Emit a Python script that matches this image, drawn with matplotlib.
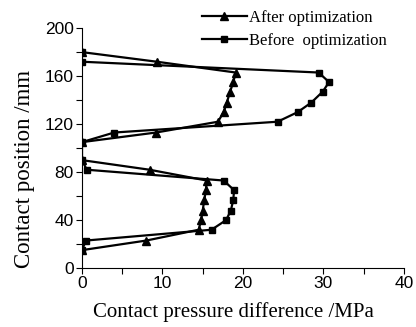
import matplotlib
matplotlib.use("Agg")
import matplotlib.pyplot as plt
from matplotlib.ticker import MultipleLocator

# contact position (mm)
pos = [180, 172, 163, 155, 147, 138, 130, 122, 113, 105,
       90, 82, 73, 65, 57, 48, 40, 32, 23, 15]
after = [0, 9.3, 19.1, 18.8, 18.4, 18.0, 17.6, 16.9, 9.2, 0,
         0, 8.4, 15.5, 15.4, 15.2, 15.0, 14.8, 14.5, 8.0, 0]
before = [0, 0, 29.4, 30.7, 29.9, 28.5, 26.8, 24.3, 4.0, 0,
          0, 0.6, 17.6, 18.9, 18.8, 18.5, 17.9, 16.1, 0.5, 0]

fig = plt.figure(figsize=(4.16, 3.27), dpi=100)
ax = fig.add_axes([0.197, 0.180, 0.774, 0.734])

ax.plot(after, pos, color="black", lw=1.6, marker="^", ms=5.5, label="After optimization")
ax.plot(before, pos, color="black", lw=1.6, marker="s", ms=4.5, label="Before  optimization")

ax.set_xlim(0, 40)
ax.set_ylim(0, 200)
ax.xaxis.set_major_locator(MultipleLocator(10))
ax.xaxis.set_minor_locator(MultipleLocator(5))
ax.yaxis.set_major_locator(MultipleLocator(40))
ax.yaxis.set_minor_locator(MultipleLocator(20))
ax.spines["top"].set_visible(False)
ax.spines["right"].set_visible(False)
ax.tick_params(which="both", direction="out", length=4, width=0.8, labelsize=12.5, pad=2)
for t in ax.get_xticklabels() + ax.get_yticklabels():
    t.set_family("Liberation Sans")

ax.set_xlabel("Contact pressure difference /MPa", family="Liberation Serif", fontsize=15)
ax.set_ylabel("Contact position /mm", family="Liberation Serif", fontsize=16.5)
ax.xaxis.set_label_coords(0.47, -0.14)
ax.yaxis.set_label_coords(-0.145, 0.415)

leg = ax.legend(loc="upper left", bbox_to_anchor=(0.372, 1.075), frameon=False,
                prop={"family": "Liberation Serif", "size": 12},
                handlelength=2.7, handletextpad=0.15, labelspacing=0.42, borderaxespad=0,
                borderpad=0)

fig.savefig("out.png", dpi=100)
